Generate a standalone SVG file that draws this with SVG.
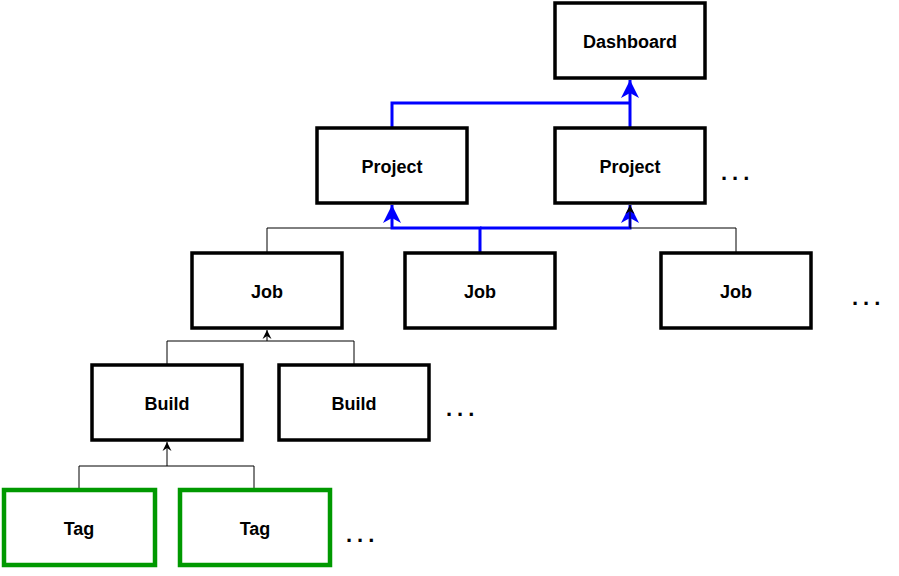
<svg xmlns="http://www.w3.org/2000/svg" width="899" height="576" viewBox="0 0 899 576">
<defs>
<style>
.box{fill:#fff;stroke:#000;stroke-width:3.5}
.tag{fill:#fff;stroke:#009900;stroke-width:4.5}
.lbl{font-family:"Liberation Sans",Arial,sans-serif;font-size:18px;font-weight:bold;fill:#000;text-anchor:middle}
.dots{font-family:"Liberation Sans",Arial,sans-serif;font-size:22px;font-weight:bold;fill:#000;letter-spacing:5px}
.thin{fill:none;stroke:#000;stroke-width:1}
.blue{fill:none;stroke:#0000ff;stroke-width:3}
</style>
<marker id="ab" markerUnits="userSpaceOnUse" markerWidth="20" markerHeight="20" viewBox="-18 -10 20 20" refX="0" refY="0" orient="auto">
<path d="M0,0 L-18,-9 L-13,0 L-18,9 Z" fill="#0000ff"/>
</marker>
<marker id="ak" markerUnits="userSpaceOnUse" markerWidth="12" markerHeight="12" viewBox="-10 -6 12 12" refX="0" refY="0" orient="auto">
<path d="M0,0 L-9,-4.5 L-6,0 L-9,4.5 Z" fill="#000"/>
</marker>
</defs>
<g id="connectors">
<path class="thin" d="M267,253 V228 H392" />
<path class="thin" d="M79,490 V466 H167 V442" marker-end="url(#ak)"/>
<path class="thin" d="M254,490 V466 H167"/>
<path class="thin" d="M167,365 V341 H267 V330" marker-end="url(#ak)"/>
<path class="thin" d="M354,365 V341 H267"/>
<path class="blue" d="M392,128 V103 H630"/>
<path class="blue" d="M630,128 V80" marker-end="url(#ab)"/>
<path class="blue" d="M480,253 V228 H392 V205" marker-end="url(#ab)"/>
<path class="blue" d="M480,228 H630 V205" marker-end="url(#ab)"/>
<path class="thin" d="M736,253 V228 H630 V205" marker-end="url(#ak)"/>
</g>
<g id="dashboard"><rect class="box" x="555" y="3" width="150" height="75"/><text class="lbl" x="630" y="47.5">Dashboard</text></g>
<g id="project1"><rect class="box" x="317" y="128" width="150" height="75"/><text class="lbl" x="392" y="172.5">Project</text></g>
<g id="project2"><rect class="box" x="555" y="128" width="150" height="75"/><text class="lbl" x="630" y="172.5">Project</text></g>
<g id="job1"><rect class="box" x="192" y="253" width="150" height="75"/><text class="lbl" x="267" y="297.5">Job</text></g>
<g id="job2"><rect class="box" x="405" y="253" width="150" height="75"/><text class="lbl" x="480" y="297.5">Job</text></g>
<g id="job3"><rect class="box" x="661" y="253" width="150" height="75"/><text class="lbl" x="736" y="297.5">Job</text></g>
<g id="build1"><rect class="box" x="92" y="365" width="150" height="75"/><text class="lbl" x="167" y="409.5">Build</text></g>
<g id="build2"><rect class="box" x="279" y="365" width="150" height="75"/><text class="lbl" x="354" y="409.5">Build</text></g>
<g id="tag1"><rect class="tag" x="4" y="490" width="151" height="75"/><text class="lbl" x="79" y="534.5">Tag</text></g>
<g id="tag2"><rect class="tag" x="180" y="490" width="150" height="75"/><text class="lbl" x="255" y="534.5">Tag</text></g>
<g id="ellipses">
<text class="dots" x="721" y="180">...</text>
<text class="dots" x="852" y="305">...</text>
<text class="dots" x="446" y="416">...</text>
<text class="dots" x="346" y="542">...</text>
</g>
</svg>
